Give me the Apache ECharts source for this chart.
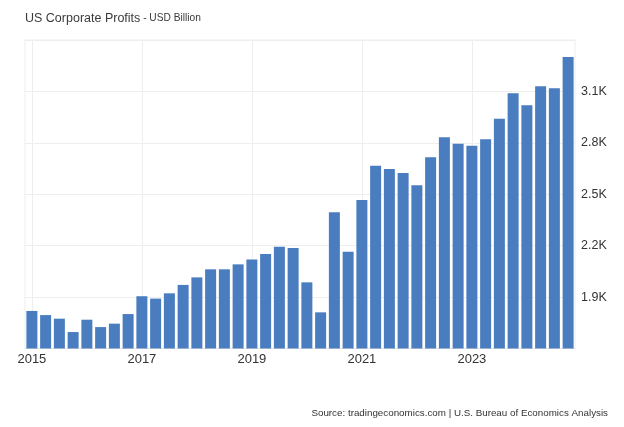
<!DOCTYPE html>
<html>
<head>
<meta charset="utf-8">
<script src="https://cdn.jsdelivr.net/npm/echarts@6/dist/echarts.min.js"></script>
<style>html,body{margin:0;padding:0;background:#fff}#c{width:624px;height:427px}</style>
</head>
<body>
<div id="c"></div>
<script>
var years = ['2015','2016','2017','2018','2019','2020','2021','2022','2023','2024'];
var quarters = ['Q1','Q2','Q3','Q4'];
var categories = [];
years.forEach(function(y){ quarters.forEach(function(q){ categories.push(y + ' ' + q); }); });
var profits = [
  1819, 1795, 1774, 1696, 1768, 1725, 1745, 1801,
  1905, 1891, 1922, 1971, 2015, 2062, 2062, 2091,
  2120, 2151, 2194, 2186, 1986, 1811, 2395, 2165,
  2467, 2667, 2647, 2624, 2552, 2716, 2832, 2795,
  2783, 2821, 2941, 3089, 3019, 3130, 3118, 3301
];
var yTickLabels = {1900:'1.9K', 2200:'2.2K', 2500:'2.5K', 2800:'2.8K', 3100:'3.1K'};

var chart = echarts.init(document.getElementById('c'));
chart.setOption({
  animation: false,
  backgroundColor: '#fff',
  textStyle: { fontFamily: 'Liberation Sans, Arial, sans-serif' },
  title: {
    text: '{a|US Corporate Profits}{b| - USD Billion}',
    left: 20, top: 7,
    textStyle: {
      fontWeight: 'normal',
      rich: {
        a: { fontSize: 12.5, color: '#3a3a3a', fontWeight: 'normal', fontFamily: 'Liberation Sans' },
        b: { fontSize: 10.2, color: '#3a3a3a', fontWeight: 'normal', fontFamily: 'Liberation Sans' }
      }
    }
  },
  graphic: [{
    type: 'text', right: 16, top: 408,
    style: { text: 'Source: tradingeconomics.com | U.S. Bureau of Economics Analysis', fontSize: 9.8, fill: '#333', fontFamily: 'Liberation Sans' }
  }],
  grid: { left: 25, right: 49, top: 40, bottom: 78.5, show: true, borderColor: '#eeeeee', borderWidth: 1 },
  xAxis: {
    type: 'category',
    data: categories,
    boundaryGap: true,
    axisLine: { show: true, lineStyle: { color: '#e6e6e6' } },
    axisTick: { show: false, alignWithLabel: true, interval: function(i){ return i % 8 === 0; } },
    axisLabel: {
      interval: function(i){ return i % 8 === 0; },
      formatter: function(v){ return v.split(' ')[0]; },
      color: '#333', fontSize: 13, margin: 4, fontFamily: 'Liberation Sans'
    },
    splitLine: { show: true, alignWithLabel: true, interval: function(i){ return i % 8 === 0; }, lineStyle: { color: '#eeeeee' } }
  },
  yAxis: {
    type: 'value',
    position: 'right',
    min: 1600, max: 3400, interval: 300,
    axisLine: { show: false },
    axisTick: { show: false },
    axisLabel: {
      color: '#333', fontSize: 12.5, margin: 6, fontFamily: 'Liberation Sans',
      formatter: function(v){ return yTickLabels[v] || ''; }
    },
    splitLine: { lineStyle: { color: '#eeeeee' } }
  },
  series: [{
    type: 'bar',
    data: profits,
    barCategoryGap: '20%',
    itemStyle: { color: '#4a7dbf' }
  }]
});
</script>
</body>
</html>
